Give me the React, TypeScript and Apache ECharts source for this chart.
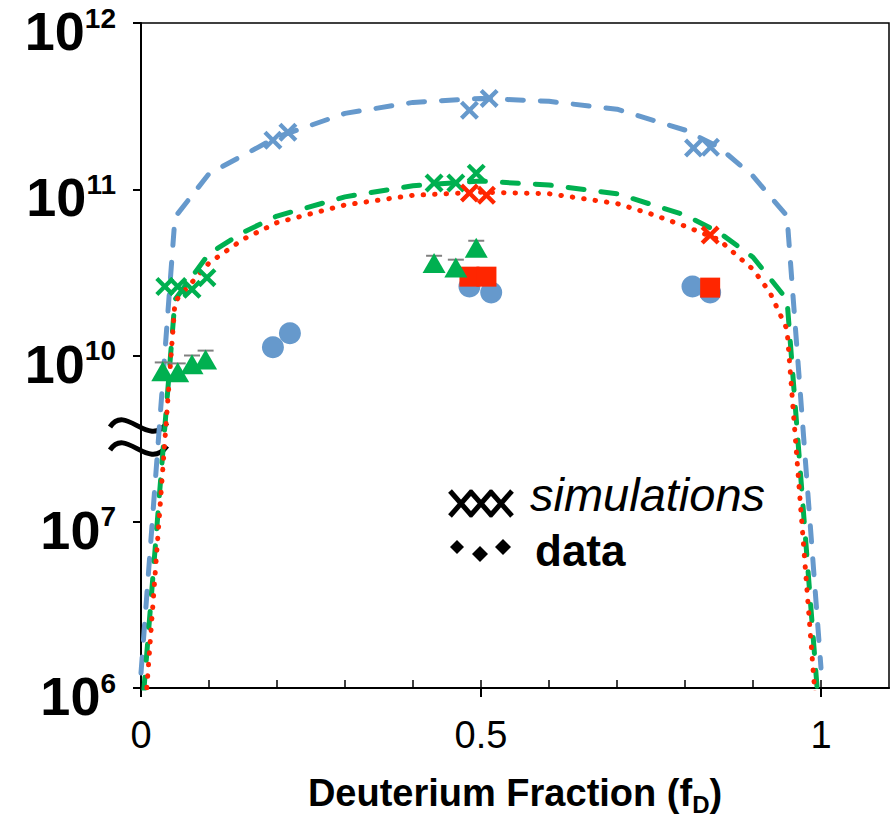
import React, { useEffect, useRef } from "react";
import * as echarts from "echarts";

const FONT = '"Liberation Sans", Arial, Helvetica, sans-serif';

const BLUE = "#6699CC";
const GREEN = "#00B050";
const RED = "#FF2600";
const GREY = "#808080";

// Tick exponents of the broken log axis (10^7 .. 10^10 squeezed into one step)
const yTickExponents = [6, 7, 10, 11, 12];

// Simulated curves (deuterium fraction -> yield)
const blueCurveFD = [0, 0.05, 0.1, 0.2, 0.3, 0.4, 0.5, 0.6, 0.7, 0.8, 0.85, 0.9, 0.95, 1.0];
const blueCurveY = [1.23e6, 6.8e10, 1.24e11, 2.06e11, 2.86e11, 3.33e11, 3.52e11, 3.38e11, 3.03e11, 2.27e11, 1.79e11, 1.2e11, 6.9e10, 1.32e6];

const greenCurveFD = [0, 0.05, 0.1, 0.15, 0.2, 0.3, 0.4, 0.5, 0.6, 0.7, 0.8, 0.85, 0.9, 0.95, 1.0];
const greenCurveY = [5.9e5, 2.17e10, 4.1e10, 5.5e10, 6.9e10, 9.0e10, 1.05e11, 1.12e11, 1.06e11, 9.4e10, 7.0e10, 5.5e10, 3.9e10, 2.17e10, 5.0e5];

const redCurveFD = [0, 0.05, 0.1, 0.15, 0.2, 0.3, 0.4, 0.5, 0.6, 0.7, 0.75, 0.8, 0.85, 0.875, 0.9, 0.925, 0.95, 1.0];
const redCurveY = [3.3e5, 2.11e10, 3.6e10, 5.0e10, 6.3e10, 8.05e10, 9.2e10, 9.6e10, 9.4e10, 8.2e10, 7.1e10, 6.0e10, 4.97e10, 4.04e10, 3.3e10, 2.39e10, 1.44e10, 3.1e5];

// Individual simulation runs
const blueSimFD = [0.194, 0.216, 0.483, 0.512, 0.8125, 0.8375];
const blueSimY = [1.97e11, 2.2e11, 2.99e11, 3.52e11, 1.77e11, 1.79e11];
const greenSimFD = [0.035, 0.054, 0.075, 0.097, 0.431, 0.463, 0.493];
const greenSimY = [2.6e10, 2.6e10, 2.5e10, 2.94e10, 1.09e11, 1.09e11, 1.25e11];
const redSimFD = [0.483, 0.508, 0.837];
const redSimY = [9.5e10, 9.2e10, 5.3e10];

// Measured data
const blueDataFD = [0.194, 0.219, 0.483, 0.515, 0.811, 0.837];
const blueDataY = [1.12e10, 1.36e10, 2.6e10, 2.39e10, 2.6e10, 2.39e10];
const greenDataFD = [0.032, 0.054, 0.075, 0.095, 0.431, 0.463, 0.493];
const greenDataY = [5.2e9, 5.0e9, 6.95e9, 8.5e9, 3.6e10, 3.38e10, 4.45e10];
const greenDataUpper = [7.5e9, 7.2e9, 1.0e10, 1.07e10, 3.98e10, 3.77e10, 4.9e10];
const redDataFD = [0.483, 0.508, 0.837];
const redDataY = [2.98e10, 2.98e10, 2.56e10];

// Broken log scale: 1e6..1e7 and 1e10..1e12 are one unit per decade,
// the gap 1e7..1e10 is compressed into a single unit.
const toAxis = (v: number) => {
  const e = Math.log10(v);
  if (e >= 10) return e - 8;
  if (e >= 7) return 1 + (e - 7) / 3;
  return e - 6;
};

const pairs = (xs: number[], ys: number[]) => xs.map((x, i) => [x, toAxis(ys[i])]);

const CROSS = "path://M0,1.6L1.6,0L5,3.4L8.4,0L10,1.6L6.6,5L10,8.4L8.4,10L5,6.6L1.6,10L0,8.4L3.4,5Z";

export default function App() {
  const ref = useRef<HTMLDivElement>(null);

  useEffect(() => {
    if (!ref.current) return;
    const chart = echarts.init(ref.current, undefined, { renderer: "svg" });

    const curve = (name: string, xs: number[], ys: number[], color: string, dash: number[]) => ({
      name,
      type: "line",
      data: pairs(xs, ys),
      showSymbol: false,
      symbol: "none",
      clip: true,
      z: 2,
      lineStyle: { color, width: 5, type: dash, cap: "round", join: "round" },
    });

    const marks = (name: string, xs: number[], ys: number[], color: string, symbol: string, size: any, z: number) => ({
      name,
      type: "scatter",
      data: pairs(xs, ys),
      symbol,
      symbolSize: size,
      z,
      itemStyle: { color, opacity: 1 },
    });

    const errorData = greenDataFD.map((x, i) => [x, toAxis(greenDataY[i]), toAxis(greenDataUpper[i])]);

    const line = (x1: number, y1: number, x2: number, y2: number, w = 5) => ({
      type: "line",
      shape: { x1, y1, x2, y2 },
      style: { stroke: "#000", lineWidth: w, lineCap: "butt" },
    });
    const diamond = (cx: number, cy: number, r: number) => ({
      type: "polygon",
      shape: { points: [[cx, cy - r], [cx + r, cy], [cx, cy + r], [cx - r, cy]] },
      style: { fill: "#000" },
    });
    const wave = (y: number) => ({
      type: "bezierCurve",
      shape: { x1: 110, y1: y + 2, cpx1: 126, cpy1: y - 22, cpx2: 148, cpy2: y + 24, x2: 167, y2: y - 2 },
      style: { stroke: "#000", lineWidth: 5, fill: "none" },
      z: 1,
    });

    chart.setOption({
      animation: false,
      backgroundColor: "#fff",
      grid: {
        left: 141,
        right: 5,
        top: 23,
        bottom: 131,
        show: true,
        borderColor: "#000",
        borderWidth: 1.5,
        containLabel: false,
      },
      xAxis: [
        {
          type: "value",
          min: 0,
          max: 1.1,
          interval: 0.5,
          position: "bottom",
          axisLine: { show: true, lineStyle: { color: "#000", width: 2 } },
          axisTick: { show: true, inside: false, length: 9, customValues: [0, 0.5, 1], lineStyle: { color: "#000", width: 2 } },
          axisLabel: {
            customValues: [0, 0.5, 1],
            formatter: (v: number) => String(v),
            fontFamily: FONT,
            fontSize: 38,
            color: "#000",
            margin: 28,
          },
          splitLine: { show: false },
          name: "{t|Deuterium Fraction (f}{d|D}{t|)}",
          nameLocation: "middle",
          nameGap: 82,
          nameTextStyle: {
            rich: {
              t: { fontFamily: FONT, fontSize: 38, fontWeight: "bold", color: "#000", lineHeight: 46 },
              d: { fontFamily: FONT, fontSize: 24, fontWeight: "bold", color: "#000", lineHeight: 22, verticalAlign: "bottom" },
            },
          },
        },
        {
          type: "value",
          min: 0,
          max: 1.1,
          interval: 0.5,
          position: "bottom",
          axisLine: { show: false },
          axisTick: {
            show: true,
            inside: true,
            length: 8,
            customValues: [0, 0.1, 0.2, 0.3, 0.4, 0.5, 0.6, 0.7, 0.8, 0.9, 1.0],
            lineStyle: { color: "#000", width: 1.5 },
          },
          axisLabel: { show: false },
          splitLine: { show: false },
        },
      ],
      yAxis: [
        {
          type: "value",
          min: 0,
          max: 4,
          interval: 1,
          axisLine: { show: true, lineStyle: { color: "#000", width: 2 } },
          axisTick: { show: true, inside: false, length: 8, lineStyle: { color: "#000", width: 2 } },
          splitLine: { show: false },
          axisLabel: {
            margin: 25,
            padding: [16, 0, 0, 0],
            formatter: (v: number) => `{b|10}{s|${yTickExponents[Math.round(v)]}}`,
            rich: {
              b: { fontFamily: FONT, fontSize: 54, fontWeight: "bold", color: "#000", lineHeight: 54 },
              s: { fontFamily: FONT, fontSize: 28, fontWeight: "bold", color: "#000", lineHeight: 36, verticalAlign: "top" },
            },
          },
        },
        {
          type: "value",
          min: 0,
          max: 4,
          interval: 1,
          axisLine: { show: false },
          axisTick: { show: true, inside: true, length: 8, lineStyle: { color: "#000", width: 2 } },
          axisLabel: { show: false },
          splitLine: { show: false },
        },
      ],
      series: [
        curve("blue simulation", blueCurveFD, blueCurveY, BLUE, [16, 17]),
        curve("green simulation", greenCurveFD, greenCurveY, GREEN, [16, 17]),
        curve("red simulation", redCurveFD, redCurveY, RED, [0.5, 11]),
        {
          name: "error",
          type: "custom",
          z: 3,
          data: errorData,
          encode: { x: 0, y: [1, 2] },
          renderItem: (_p: any, api: any) => {
            const lo = api.coord([api.value(0), api.value(1)]);
            const hi = api.coord([api.value(0), api.value(2)]);
            return {
              type: "group",
              children: [
                { type: "line", shape: { x1: lo[0], y1: lo[1], x2: hi[0], y2: hi[1] }, style: { stroke: GREY, lineWidth: 1.5 } },
                { type: "line", shape: { x1: hi[0] - 8, y1: hi[1], x2: hi[0] + 8, y2: hi[1] }, style: { stroke: GREY, lineWidth: 2 } },
              ],
            };
          },
        },
        marks("blue data", blueDataFD, blueDataY, BLUE, "circle", 22, 4),
        marks("red data", redDataFD, redDataY, RED, "rect", 20, 5),
        marks("green data", greenDataFD, greenDataY, GREEN, "triangle", [23, 20], 6),
        marks("blue sim", blueSimFD, blueSimY, BLUE, CROSS, 19, 7),
        marks("green sim", greenSimFD, greenSimY, GREEN, CROSS, 19, 7),
        marks("red sim", redSimFD, redSimY, RED, CROSS, 19, 7),
      ],
      graphic: [
        // axis break marks
        wave(425),
        wave(448),
        // key: crosses for simulations, diamonds for data
        line(450, 491, 472, 516),
        line(450, 516, 472, 491),
        line(470, 491, 492, 516),
        line(470, 516, 492, 491),
        line(490, 491, 512, 516),
        line(490, 516, 512, 491),
        diamond(457, 547, 7),
        diamond(480, 554, 8),
        diamond(503, 547, 8),
        {
          type: "text",
          x: 530,
          y: 494,
          style: { text: "simulations", fontFamily: FONT, fontSize: 47, fontStyle: "italic", fill: "#000", verticalAlign: "middle", align: "left" },
        },
        {
          type: "text",
          x: 535,
          y: 550,
          style: { text: "data", fontFamily: FONT, fontSize: 44, fontWeight: "bold", fill: "#000", verticalAlign: "middle", align: "left" },
        },
      ],
    });

    return () => chart.dispose();
  }, []);

  return (
    <div
      ref={ref}
      style={{ position: "fixed", left: 0, top: 0, width: 894, height: 821, background: "#fff" }}
    />
  );
}
